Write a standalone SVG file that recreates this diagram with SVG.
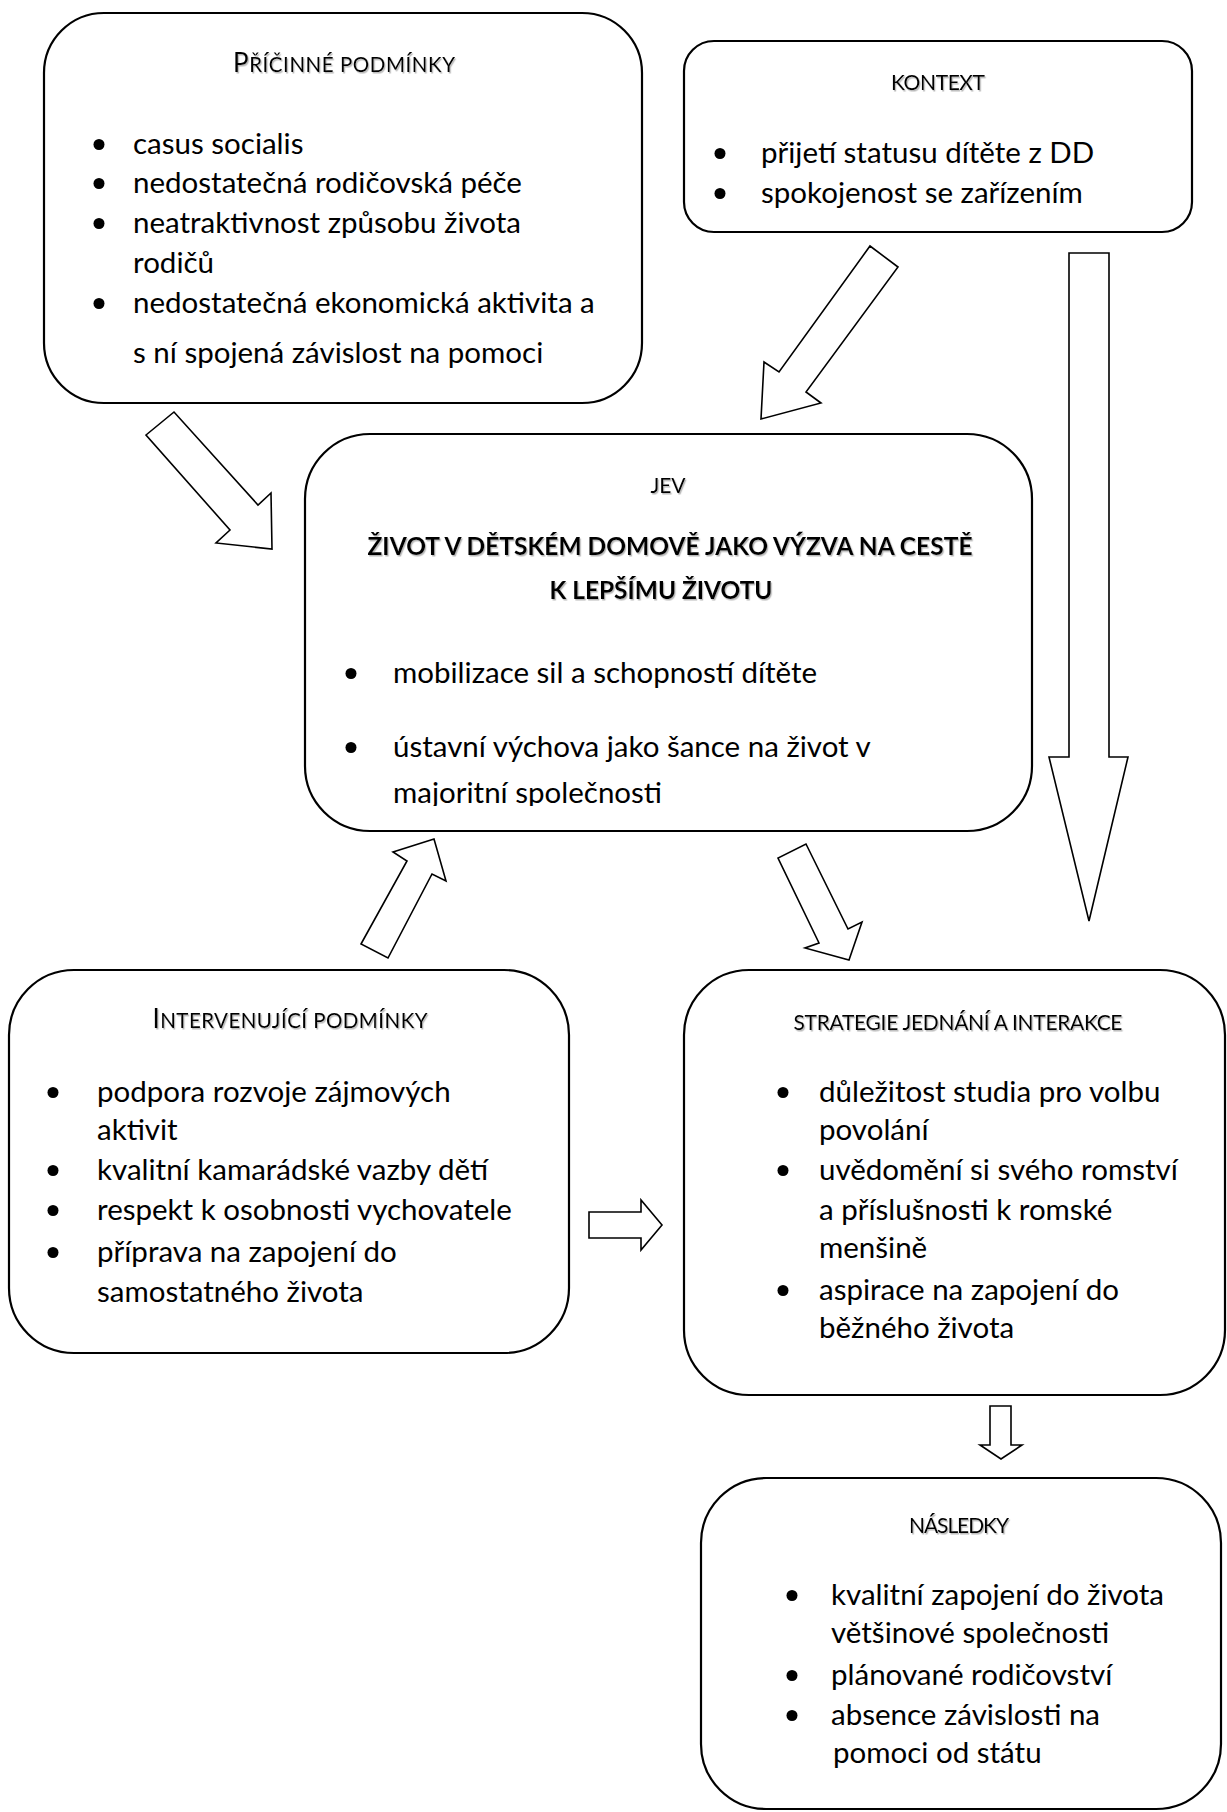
<svg xmlns="http://www.w3.org/2000/svg" width="1227" height="1812" viewBox="0 0 1227 1812">
<defs>
<filter id="sh" x="-5%" y="-30%" width="110%" height="160%"><feDropShadow dx="1.2" dy="1.5" stdDeviation="0.7" flood-color="#888" flood-opacity="0.6"/></filter>
<clipPath id="jevclip"><rect x="305" y="434" width="727" height="372"/></clipPath>
</defs>
<style>
.box{fill:#fff;stroke:#000;stroke-width:2.2}
.arr{fill:#fff;stroke:#000;stroke-width:1.6;stroke-linejoin:miter}
text{font-family:Lato,"Liberation Sans",sans-serif;fill:#000}
.b{font-size:29.5px}
.t{font-size:21px;filter:url(#sh)}
.sc{font-size:20.5px}
.cap{font-size:26px}
.bold{font-size:24.5px;font-weight:bold;filter:url(#sh)}
.dot{fill:#000}
</style>
<rect x="0" y="0" width="1227" height="1812" fill="#fff"/>
<g id="connectors">
<polygon id="a-pricinne-jev" class="arr" points="146,435 174,412 258,505 271,493 272,549 216,543 230,530"/>
<polygon id="a-kontext-jev" class="arr" points="870,246 898,267 806,392 821,403 761,419 764,362 779,372"/>
<polygon id="a-kontext-strategie" class="arr" points="1069,253 1109,253 1109,757 1128,757 1089,921 1049,757 1069,757"/>
<polygon id="a-jev-strategie" class="arr" points="806,844 848,929 862,922 849,960 805,948 819,943 778,858"/>
<polygon id="a-interv-jev" class="arr" points="361,944 407,861 393,852 434,839 446,881 432,874 388,958"/>
<polygon id="a-interv-strategie" class="arr" points="589,1212 641,1212 641,1200 662,1225 641,1250 641,1238 589,1238"/>
<polygon id="a-strategie-nasledky" class="arr" points="990,1406 1011,1406 1011,1445 1022,1445 1001,1459 980,1445 990,1445"/>
</g>
<g id="pricinne">
<rect class="box" x="44" y="13" width="598" height="390" rx="60"/>
<text class="t" x="344" y="72" text-anchor="middle" textLength="222"><tspan class="cap">P</tspan><tspan class="sc">ŘÍČINNÉ PODMÍNKY</tspan></text>
<circle class="dot" cx="99" cy="144.5" r="5.5"/>
<circle class="dot" cx="99" cy="183.5" r="5.5"/>
<circle class="dot" cx="99" cy="223.5" r="5.5"/>
<circle class="dot" cx="99" cy="303.5" r="5.5"/>
<text class="b" x="133" y="154">casus socialis</text>
<text class="b" x="133" y="193">nedostatečná rodičovská péče</text>
<text class="b" x="133" y="233">neatraktivnost způsobu života</text>
<text class="b" x="133" y="273">rodičů</text>
<text class="b" x="133" y="313">nedostatečná ekonomická aktivita a</text>
<text class="b" x="133" y="363">s ní spojená závislost na pomoci</text>
</g>
<g id="kontext">
<rect class="box" x="684" y="41" width="508" height="191" rx="30"/>
<text class="t" x="938" y="90" text-anchor="middle" textLength="94">KONTEXT</text>
<circle class="dot" cx="720" cy="153.5" r="5.5"/>
<circle class="dot" cx="720" cy="193.5" r="5.5"/>
<text class="b" x="761" y="163">přijetí statusu dítěte z DD</text>
<text class="b" x="761" y="203">spokojenost se zařízením</text>
</g>
<g id="jev">
<rect class="box" x="305" y="434" width="727" height="397" rx="65"/>
<text class="t" x="668" y="493" text-anchor="middle" textLength="35">JEV</text>
<text class="bold" x="670" y="555" text-anchor="middle" textLength="605">ŽIVOT V DĚTSKÉM DOMOVĚ JAKO VÝZVA NA CESTĚ</text>
<text class="bold" x="661" y="599" text-anchor="middle" textLength="223">K LEPŠÍMU ŽIVOTU</text>
<circle class="dot" cx="351" cy="673.5" r="5.5"/>
<circle class="dot" cx="351" cy="747.5" r="5.5"/>
<text class="b" x="393" y="683">mobilizace sil a schopností dítěte</text>
<text class="b" x="393" y="757">ústavní výchova jako šance na život v</text>
<text class="b" x="393" y="803" clip-path="url(#jevclip)">majoritní společnosti</text>
</g>
<g id="intervenujici">
<rect class="box" x="9" y="970" width="560" height="383" rx="65"/>
<text class="t" x="290" y="1028" text-anchor="middle" textLength="275"><tspan class="cap">I</tspan><tspan class="sc">NTERVENUJÍCÍ PODMÍNKY</tspan></text>
<circle class="dot" cx="53" cy="1092.5" r="5.5"/>
<circle class="dot" cx="53" cy="1170.5" r="5.5"/>
<circle class="dot" cx="53" cy="1210.5" r="5.5"/>
<circle class="dot" cx="53" cy="1252.5" r="5.5"/>
<text class="b" x="97" y="1102">podpora rozvoje zájmových</text>
<text class="b" x="97" y="1140">aktivit</text>
<text class="b" x="97" y="1180">kvalitní kamarádské vazby dětí</text>
<text class="b" x="97" y="1220">respekt k osobnosti vychovatele</text>
<text class="b" x="97" y="1262">příprava na zapojení do</text>
<text class="b" x="97" y="1302">samostatného života</text>
</g>
<g id="strategie">
<rect class="box" x="684" y="970" width="541" height="425" rx="65"/>
<text class="t" x="958" y="1030" text-anchor="middle" textLength="329">STRATEGIE JEDNÁNÍ A INTERAKCE</text>
<circle class="dot" cx="783" cy="1092.5" r="5.5"/>
<circle class="dot" cx="783" cy="1170.5" r="5.5"/>
<circle class="dot" cx="783" cy="1290.5" r="5.5"/>
<text class="b" x="819" y="1102">důležitost studia pro volbu</text>
<text class="b" x="819" y="1140">povolání</text>
<text class="b" x="819" y="1180">uvědomění si svého romství</text>
<text class="b" x="819" y="1220">a příslušnosti k romské</text>
<text class="b" x="819" y="1258">menšině</text>
<text class="b" x="819" y="1300">aspirace na zapojení do</text>
<text class="b" x="819" y="1338">běžného života</text>
</g>
<g id="nasledky">
<rect class="box" x="701" y="1478" width="520" height="331" rx="65"/>
<text class="t" x="959" y="1533" text-anchor="middle" textLength="100">NÁSLEDKY</text>
<circle class="dot" cx="792" cy="1595.5" r="5.5"/>
<circle class="dot" cx="792" cy="1675.5" r="5.5"/>
<circle class="dot" cx="792" cy="1715.5" r="5.5"/>
<text class="b" x="831" y="1605">kvalitní zapojení do života</text>
<text class="b" x="831" y="1643">většinové společnosti</text>
<text class="b" x="831" y="1685">plánované rodičovství</text>
<text class="b" x="831" y="1725">absence závislosti na</text>
<text class="b" x="833" y="1763">pomoci od státu</text>
</g>
</svg>
